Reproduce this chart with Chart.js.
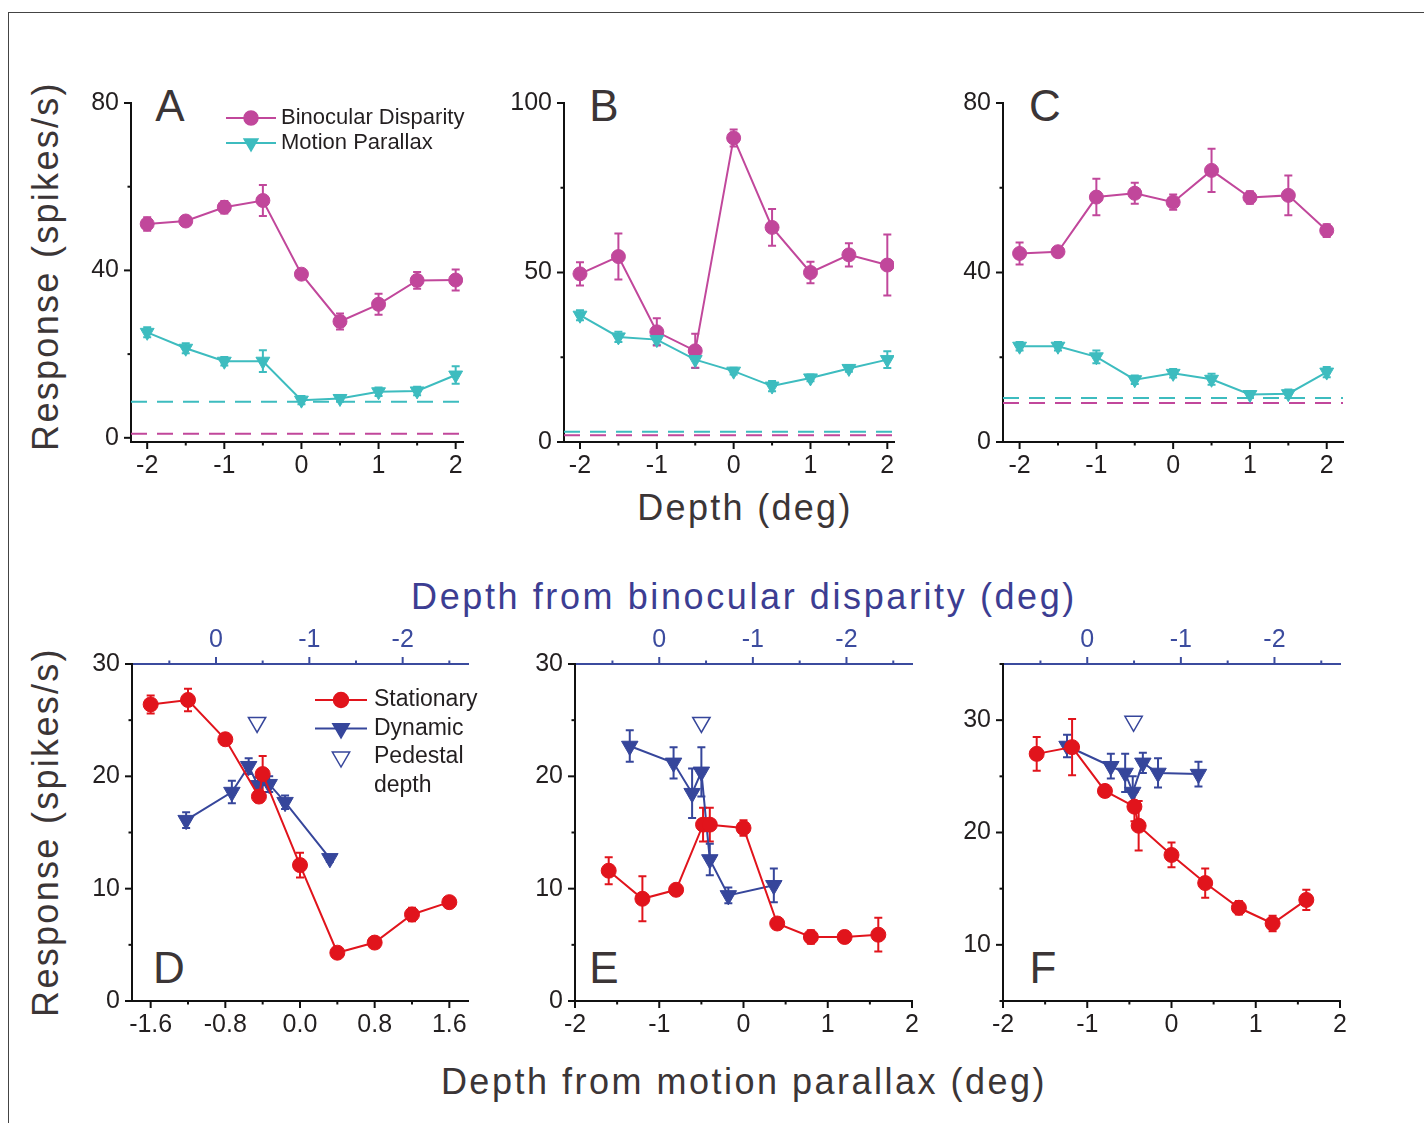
<!DOCTYPE html>
<html>
<head>
<meta charset="utf-8">
<script src="https://cdn.jsdelivr.net/npm/chart.js@4.4.0/dist/chart.umd.min.js"></script>
<style>
body { margin: 0; background: #fff; width: 1424px; height: 1123px; position: relative; overflow: hidden; font-family: "Liberation Sans", Arial, sans-serif; }
.frame { position: absolute; left: 8px; top: 12px; right: -4px; bottom: -4px; border-top: 1.5px solid #444; border-left: 1.5px solid #444; }
.lbl { position: absolute; transform: translate(-50%, -50%); line-height: 1; white-space: nowrap; color: #3b3536; }
.title { font-size: 36px; letter-spacing: 2.3px; }
.vert { transform: translate(-50%, -50%) rotate(-90deg); }
.letter { font-size: 44px; }
</style>
</head>
<body>
<div class="frame"></div>

<div class="lbl title vert" style="left:46px;top:266px">Response (spikes/s)</div>
<div class="lbl title vert" style="left:46px;top:832px">Response (spikes/s)</div>
<div class="lbl title" style="left:745px;top:508px">Depth (deg)</div>
<div class="lbl title" style="left:744px;top:597px;color:#3c3d92;letter-spacing:2.6px">Depth from binocular disparity (deg)</div>
<div class="lbl title" style="left:744px;top:1082px;letter-spacing:2.5px">Depth from motion parallax (deg)</div>

<div class="lbl letter" style="left:170px;top:106px">A</div>
<div class="lbl letter" style="left:604px;top:106px">B</div>
<div class="lbl letter" style="left:1045px;top:106px">C</div>
<div class="lbl letter" style="left:169px;top:968px">D</div>
<div class="lbl letter" style="left:604px;top:968px">E</div>
<div class="lbl letter" style="left:1043px;top:968px">F</div>

<script>
// ---------- data ----------
const lblBD = 'Binocular Disparity';
const lblMP = 'Motion Parallax';
const lblSt = 'Stationary';
const lblDy = 'Dynamic';

const depthABC = [-2, -1.5, -1, -0.5, 0, 0.5, 1, 1.5, 2];

// panel A
const bdA = [51.1, 51.8, 55.1, 56.7, 39.1, 27.8, 31.9, 37.6, 37.7];
const bdErrA = [1.6, 1.0, 1.5, 3.7, 1.0, 1.9, 2.5, 2.0, 2.5];
const mpA = [25.2, 21.4, 18.3, 18.3, 9.0, 9.4, 11.0, 11.2, 15.0];
const mpErrA = [1.2, 1.2, 1.0, 2.6, 1.0, 0.8, 1.0, 1.0, 2.1];
const baseBdA = 1.0, baseMpA = 8.6;

// panel B
const bdB = [49.6, 54.7, 32.5, 26.9, 89.7, 63.3, 50.0, 55.2, 52.2];
const bdErrB = [3.4, 6.8, 4.0, 5.0, 2.5, 5.4, 3.2, 3.4, 9.0];
const mpB = [37.4, 31.0, 30.2, 24.3, 20.9, 16.5, 18.9, 21.7, 24.3];
const mpErrB = [1.5, 1.5, 1.5, 2.5, 1.0, 1.5, 1.0, 1.0, 2.5];
const baseBdB = 2.0, baseMpB = 3.0;

// panel C
const bdC = [44.5, 44.9, 57.8, 58.7, 56.6, 64.1, 57.7, 58.2, 49.9];
const bdErrC = [2.6, 0.8, 4.3, 2.5, 1.8, 5.1, 1.5, 4.7, 1.5];
const mpC = [22.6, 22.6, 20.1, 14.7, 16.2, 14.8, 11.2, 11.4, 16.5];
const mpErrC = [1.0, 1.0, 1.5, 1.0, 1.0, 1.3, 0.8, 1.0, 1.2];
const baseBdC = 9.2, baseMpC = 10.4;

// panel D
const stXD = [-1.6, -1.2, -0.8, -0.44, -0.4, 0, 0.4, 0.8, 1.2, 1.6];
const stYD = [26.4, 26.8, 23.3, 18.2, 20.2, 12.1, 4.3, 5.2, 7.7, 8.8];
const stErrD = [0.8, 1.0, 0.5, 0.5, 1.6, 1.1, 0.3, 0.3, 0.6, 0.3];
const dyXD = [-1.22, -0.73, -0.55, -0.45, -0.33, -0.16, 0.32];
const dyYD = [16.1, 18.6, 20.9, 19.2, 19.3, 17.7, 12.7];
const dyErrD = [0.7, 1.0, 0.7, 0.7, 0.7, 0.6, 0.3];
const pedD = { x: -0.46, y: 24.8 };

// panel E
const stXE = [-1.6, -1.2, -0.8, -0.48, -0.4, 0, 0.4, 0.8, 1.2, 1.6];
const stYE = [11.6, 9.1, 9.9, 15.7, 15.7, 15.4, 6.9, 5.7, 5.7, 5.9];
const stErrE = [1.2, 2.0, 0.3, 1.5, 1.5, 0.7, 0.3, 0.6, 0.5, 1.5];
const dyXE = [-1.35, -0.83, -0.61, -0.5, -0.4, -0.18, 0.36];
const dyYE = [22.7, 21.2, 18.5, 20.4, 12.6, 9.4, 10.3];
const dyErrE = [1.4, 1.4, 2.2, 2.2, 1.4, 0.7, 1.5];
const pedE = { x: -0.5, y: 24.8 };

// panel F
const stXF = [-1.6, -1.18, -0.79, -0.44, -0.39, 0, 0.4, 0.8, 1.2, 1.6];
const stYF = [27.0, 27.6, 23.7, 22.3, 20.6, 18.0, 15.5, 13.3, 11.9, 14.0];
const stErrF = [1.5, 2.5, 0.5, 1.3, 2.2, 1.1, 1.3, 0.6, 0.7, 0.9];
const dyXF = [-1.24, -0.72, -0.55, -0.46, -0.34, -0.16, 0.32];
const dyYF = [27.7, 25.9, 25.3, 23.6, 26.2, 25.3, 25.2];
const dyErrF = [1.0, 1.1, 1.7, 1.4, 0.9, 1.3, 1.1];
const pedF = { x: -0.45, y: 29.9 };

// tick values
const xTicksDepth = [-2, -1.5, -1, -0.5, 0, 0.5, 1, 1.5, 2];
const xMajorDepth = [-2, -1, 0, 1, 2];
const xTicksD = [-1.6, -1.2, -0.8, -0.4, 0, 0.4, 0.8, 1.2, 1.6];
const xMajorD = [-1.6, -0.8, 0, 0.8, 1.6];
const topTicks = [0.5, 0, -0.5, -1, -1.5, -2, -2.5];
const topMajor = [0, -1, -2];
const yTicksAC = [0, 20, 40, 60, 80];
const yMajorAC = [0, 40, 80];
const yTicksB = [0, 25, 50, 75, 100];
const yMajorB = [0, 50, 100];
const yTicksDE = [0, 5, 10, 15, 20, 25, 30];
const yMajorDE = [0, 10, 20, 30];
const yTicksF = [5, 10, 15, 20, 25, 30, 35];
const yMajorF = [10, 20, 30];

// ---------- styling ----------
const FONT = '"Liberation Sans", Arial, sans-serif';
const MAGENTA = '#c1479b';
const CYAN = '#3dbcbf';
const RED = '#e1141c';
const BLUE = '#36469b';
const AXIS_BLUE = '#3b4b9e';
const INK = '#231f20';

function drawMarker(ctx, kind, x, y, r, fill, stroke) {
    ctx.beginPath();
    if (kind === 'circle') {
        ctx.arc(x, y, r, 0, Math.PI * 2);
    } else {
        ctx.moveTo(x, y + r);
        ctx.lineTo(x - r * 0.866, y - r / 2);
        ctx.lineTo(x + r * 0.866, y - r / 2);
        ctx.closePath();
    }
    ctx.fillStyle = fill;
    ctx.fill();
    ctx.strokeStyle = stroke;
    ctx.lineWidth = 1.5;
    ctx.stroke();
}

// vertical error bars with caps
const errorBars = {
    id: 'errorBars',
    beforeDatasetsDraw(chart) {
        const ctx = chart.ctx;
        chart.data.datasets.forEach((ds, i) => {
            if (!ds.errors) return;
            const meta = chart.getDatasetMeta(i);
            const ys = chart.scales[meta.yAxisID];
            ctx.save();
            ctx.strokeStyle = ds.borderColor;
            ctx.lineWidth = 2;
            meta.data.forEach((pt, j) => {
                const v = ds.data[j].y, e = ds.errors[j];
                const top = ys.getPixelForValue(v + e);
                const bot = ys.getPixelForValue(v - e);
                ctx.beginPath();
                ctx.moveTo(pt.x, top); ctx.lineTo(pt.x, bot);
                ctx.moveTo(pt.x - 4, top); ctx.lineTo(pt.x + 4, top);
                ctx.moveTo(pt.x - 4, bot); ctx.lineTo(pt.x + 4, bot);
                ctx.stroke();
            });
            ctx.restore();
        });
    }
};

// outward tick marks, long for labelled ticks, short for the others
const tickMarks = {
    id: 'tickMarks',
    afterDraw(chart) {
        const ctx = chart.ctx;
        Object.values(chart.scales).forEach(s => {
            ctx.save();
            ctx.strokeStyle = s.options.border.color;
            ctx.lineWidth = 2;
            s.ticks.forEach(t => {
                const len = t.major ? 7 : 3.5;
                const p = s.getPixelForValue(t.value);
                ctx.beginPath();
                if (s.position === 'left') { ctx.moveTo(s.right, p); ctx.lineTo(s.right - len, p); }
                else if (s.position === 'bottom') { ctx.moveTo(p, s.top); ctx.lineTo(p, s.top + len); }
                else { ctx.moveTo(p, s.bottom); ctx.lineTo(p, s.bottom - len); }
                ctx.stroke();
            });
            ctx.restore();
        });
    }
};

const miniLegend = {
    id: 'miniLegend',
    afterDraw(chart, args, opts) {
        if (!opts.items || !opts.items.length) return;
        const ctx = chart.ctx, a = chart.chartArea;
        ctx.save();
        ctx.font = opts.size + 'px ' + FONT;
        ctx.textBaseline = 'middle';
        opts.items.forEach((it, i) => {
            const y = a.top + opts.y + i * opts.row;
            const x0 = a.left + opts.x;
            if (it.line) {
                ctx.strokeStyle = it.color;
                ctx.lineWidth = 2;
                ctx.beginPath(); ctx.moveTo(x0, y); ctx.lineTo(x0 + opts.len, y); ctx.stroke();
            }
            if (it.marker) drawMarker(ctx, it.marker, x0 + opts.len / 2, y, it.r, it.fill, it.color);
            ctx.fillStyle = INK;
            ctx.fillText(it.text, x0 + opts.len + opts.gap, y);
        });
        ctx.restore();
    }
};

function axis(pos, min, max, vals, majors, fmt, color, reverse) {
    return {
        type: 'linear', position: pos, min: min, max: max, reverse: !!reverse,
        afterFit: s => { if (pos === 'left') s.width = 100; else s.height = 60; },
        afterBuildTicks: s => { s.ticks = vals.map(v => ({ value: v, major: majors.includes(v) })); },
        ticks: {
            autoSkip: false, maxRotation: 0, padding: pos === 'left' ? 12 : 9,
            color: color === '#111' ? INK : color,
            font: { family: FONT, size: 25 },
            callback: v => majors.includes(v) ? fmt(v) : ''
        },
        grid: { display: false, drawTicks: false },
        border: { display: true, color: color, width: 2 }
    };
}

const plain = v => String(v);
const oneDec = v => v.toFixed(1);

function series(label, xs, ys, errs, color, kind, r, order) {
    return {
        label: label,
        data: xs.map((x, i) => ({ x: x, y: ys[i] })),
        errors: errs,
        borderColor: color, backgroundColor: color,
        borderWidth: 2, pointRadius: r, pointBorderWidth: 1,
        pointStyle: kind === 'circle' ? 'circle' : 'triangle',
        pointRotation: kind === 'circle' ? 0 : 180,
        order: order
    };
}

function baseline(v, xmin, xmax, color) {
    return {
        label: 'baseline',
        data: [{ x: xmin, y: v }, { x: xmax, y: v }],
        borderColor: color, borderWidth: 2, borderDash: [16, 10],
        pointRadius: 0, order: 5
    };
}

function pedestal(p) {
    return {
        label: 'Pedestal depth',
        data: [p], showLine: false,
        pointStyle: 'triangle', pointRotation: 180, pointRadius: 10,
        borderColor: BLUE, backgroundColor: 'rgba(255,255,255,0)', pointBorderWidth: 1.5,
        order: 0
    };
}

function addPanel(area, topSpace, scales, datasets, legend) {
    const w = area.r - area.l + 130, h = area.b - area.t + topSpace + 60;
    const cv = document.createElement('canvas');
    cv.width = w; cv.height = h;
    cv.style.cssText = 'position:absolute;left:' + (area.l - 100) + 'px;top:' + (area.t - topSpace) +
        'px;width:' + w + 'px;height:' + h + 'px';
    document.body.appendChild(cv);
    new Chart(cv, {
        type: 'line',
        data: { datasets: datasets },
        options: {
            responsive: false, animation: false, devicePixelRatio: 1, events: [],
            layout: { padding: { top: topSpace === 60 ? 0 : topSpace, right: 30, left: 0, bottom: 0 } },
            scales: scales,
            plugins: { legend: { display: false }, tooltip: { enabled: false }, miniLegend: legend || { items: [] } }
        },
        plugins: [errorBars, tickMarks, miniLegend]
    });
}

// ---------- top row ----------
function topRow(area, xmin, xmax, ymin, ymax, yT, yM, bd, bdErr, mp, mpErr, baseBd, baseMp, legend) {
    addPanel(area, 40, {
        x: axis('bottom', xmin, xmax, xTicksDepth, xMajorDepth, plain, '#111'),
        y: axis('left', ymin, ymax, yT, yM, plain, '#111')
    }, [
        series(lblMP, depthABC, mp, mpErr, CYAN, 'tri', 8, 1),
        series(lblBD, depthABC, bd, bdErr, MAGENTA, 'circle', 7, 2),
        baseline(baseMp, xmin, xmax, CYAN),
        baseline(baseBd, xmin, xmax, MAGENTA)
    ], legend);
}

topRow({ l: 131, t: 103, r: 463, b: 442 }, -2.21, 2.095, -1, 80, yTicksAC, yMajorAC,
    bdA, bdErrA, mpA, mpErrA, baseBdA, baseMpA,
    { x: 95, y: 15, row: 25, len: 50, gap: 5, size: 22, items: [
        { text: lblBD, line: true, marker: 'circle', r: 7, color: MAGENTA, fill: MAGENTA },
        { text: lblMP, line: true, marker: 'tri', r: 8, color: CYAN, fill: CYAN }
    ] });
topRow({ l: 564, t: 103, r: 894, b: 442 }, -2.208, 2.087, 0, 100, yTicksB, yMajorB,
    bdB, bdErrB, mpB, mpErrB, baseBdB, baseMpB);
topRow({ l: 1003, t: 103, r: 1343, b: 442 }, -2.216, 2.212, 0, 80, yTicksAC, yMajorAC,
    bdC, bdErrC, mpC, mpErrC, baseBdC, baseMpC);

// ---------- bottom row ----------
function bottomRow(area, xmin, xmax, xT, xM, xFmt, ymin, ymax, yT, yM, stX, stY, stErr, dyX, dyY, dyErr, ped, legend) {
    addPanel(area, 60, {
        x: axis('bottom', xmin, xmax, xT, xM, xFmt, '#111'),
        x2: axis('top', -2.7, 0.9, topTicks, topMajor, plain, AXIS_BLUE, true),
        y: axis('left', ymin, ymax, yT, yM, plain, '#111')
    }, [
        series(lblSt, stX, stY, stErr, RED, 'circle', 7.5, 1),
        series(lblDy, dyX, dyY, dyErr, BLUE, 'tri', 9.5, 2),
        pedestal(ped)
    ], legend);
}

bottomRow({ l: 132, t: 664, r: 468, b: 1001 }, -1.8, 1.8, xTicksD, xMajorD, oneDec, 0, 30, yTicksDE, yMajorDE,
    stXD, stYD, stErrD, dyXD, dyYD, dyErrD, pedD,
    { x: 183, y: 36, row: 28.5, len: 52, gap: 7, size: 23, items: [
        { text: lblSt, line: true, marker: 'circle', r: 7.5, color: RED, fill: RED },
        { text: lblDy, line: true, marker: 'tri', r: 9.5, color: BLUE, fill: BLUE },
        { text: 'Pedestal', line: false, marker: 'tri', r: 10, color: BLUE, fill: 'rgba(255,255,255,0)' },
        { text: 'depth', line: false }
    ] });
bottomRow({ l: 575, t: 664, r: 912, b: 1001 }, -2, 2, xTicksDepth, xMajorDepth, plain, 0, 30, yTicksDE, yMajorDE,
    stXE, stYE, stErrE, dyXE, dyYE, dyErrE, pedE);
bottomRow({ l: 1003, t: 664, r: 1340, b: 1001 }, -2, 2, xTicksDepth, xMajorDepth, plain, 5, 35, yTicksF, yMajorF,
    stXF, stYF, stErrF, dyXF, dyYF, dyErrF, pedF);
</script>
</body>
</html>
